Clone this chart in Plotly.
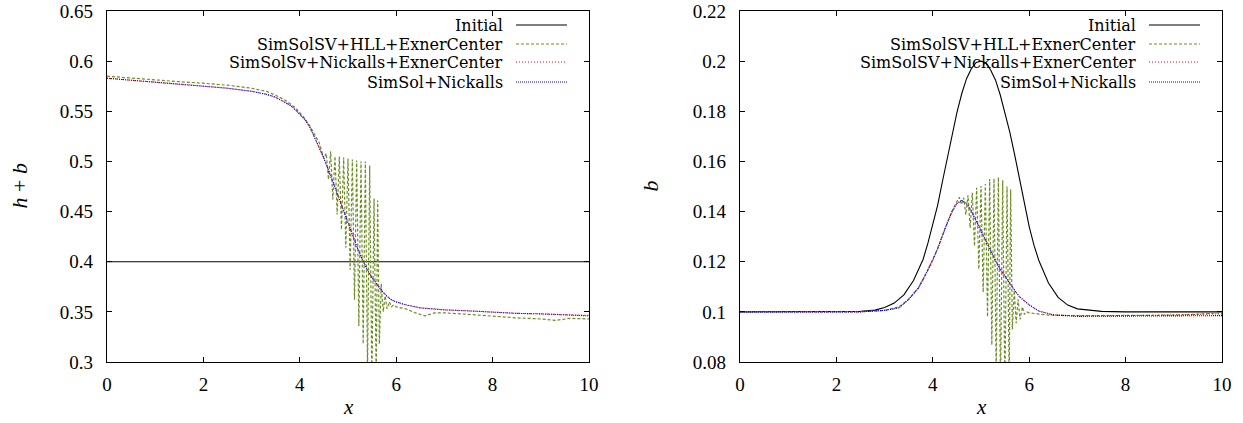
import plotly.graph_objects as go

# ---------------- data ----------------
# initial conditions
x_init_hb = [0, 10]
hb_initial = [0.4, 0.4]

x_init_b = [0, 1, 2, 2.5, 2.8, 3.0, 3.2, 3.4, 3.6, 3.8, 3.9, 4.0, 4.1, 4.2, 4.3, 4.4,
            4.5, 4.6, 4.7, 4.8, 4.9, 5.0, 5.1, 5.2, 5.3, 5.4, 5.5, 5.6, 5.7, 5.8,
            5.9, 6.0, 6.1, 6.2, 6.4, 6.6, 6.8, 7.0, 7.5, 8, 9, 10]
b_initial = [0.1, 0.1, 0.1, 0.1002, 0.1007, 0.1017, 0.1035, 0.1068, 0.1125, 0.121,
             0.1275, 0.1345, 0.1425, 0.152, 0.1615, 0.171, 0.1795, 0.187, 0.193, 0.197,
             0.1995, 0.2, 0.1994, 0.1965, 0.1925, 0.1865, 0.1795, 0.1715, 0.1625, 0.1525,
             0.143, 0.134, 0.1265, 0.1205, 0.1115, 0.1058, 0.1027, 0.1012, 0.1002, 0.1,
             0.1, 0.1]

# smooth solutions (Nickalls variants)
x_smooth = [0, 0.5, 1, 1.5, 2, 2.5, 3, 3.3, 3.5, 3.7, 3.8, 3.9, 4.0, 4.1, 4.2, 4.3,
            4.4, 4.5, 4.6, 4.7, 4.8, 4.9, 5.0, 5.1, 5.2, 5.3, 5.4, 5.5, 5.6, 5.7,
            5.8, 5.9, 6.0, 6.2, 6.5, 7.0, 7.5, 8.0, 8.5, 9.0, 9.5, 10]
hb_simsolsv_nickalls = [0.583, 0.581, 0.579, 0.577, 0.575, 0.573, 0.570, 0.567, 0.564,
                        0.559, 0.556, 0.552, 0.547, 0.542, 0.535, 0.525, 0.514, 0.503,
                        0.491, 0.478, 0.465, 0.452, 0.438, 0.425, 0.413, 0.402, 0.392,
                        0.384, 0.377, 0.371, 0.366, 0.362, 0.360, 0.357, 0.354, 0.352,
                        0.351, 0.3495, 0.3485, 0.348, 0.3472, 0.3465]
hb_simsol_nickalls = [0.583, 0.581, 0.579, 0.577, 0.575, 0.573, 0.570, 0.567, 0.564,
                      0.559, 0.556, 0.552, 0.547, 0.542, 0.535, 0.525, 0.514, 0.503,
                      0.491, 0.478, 0.465, 0.452, 0.438, 0.425, 0.413, 0.402, 0.392,
                      0.384, 0.377, 0.371, 0.366, 0.362, 0.360, 0.357, 0.354, 0.352,
                      0.351, 0.3495, 0.3485, 0.348, 0.347, 0.346]
b_simsolsv_nickalls = [0.1, 0.1, 0.1, 0.1, 0.1, 0.1, 0.1006, 0.1016, 0.1050, 0.1095,
                       0.1130, 0.1167, 0.1207, 0.1252, 0.1305, 0.1355, 0.1400, 0.1432,
                       0.1445, 0.1432, 0.1402, 0.1362, 0.132, 0.128, 0.124, 0.1205,
                       0.117, 0.114, 0.1112, 0.1085, 0.106, 0.1042, 0.1028, 0.1003,
                       0.0988, 0.0984, 0.0984, 0.0985, 0.0986, 0.0988, 0.099, 0.0992]
b_simsol_nickalls = [0.1, 0.1, 0.1, 0.1, 0.1, 0.1, 0.1006, 0.1016, 0.1050, 0.1095,
                     0.1130, 0.1167, 0.1207, 0.1252, 0.1305, 0.1355, 0.1400, 0.1432,
                     0.1445, 0.1432, 0.1402, 0.1362, 0.132, 0.128, 0.124, 0.1205,
                     0.117, 0.114, 0.1112, 0.1085, 0.106, 0.1042, 0.1028, 0.1003,
                     0.0988, 0.0982, 0.0982, 0.0982, 0.0983, 0.0984, 0.0985, 0.0985]

# HLL solution (oscillating)
x_hll = [0, 0.5, 1, 1.5, 2, 2.5, 3, 3.3, 3.5, 3.7, 3.9, 4.0, 4.1, 4.2, 4.3, 4.4, 4.5,
         4.55, 4.595, 4.64, 4.685, 4.73, 4.775, 4.82, 4.865, 4.91, 4.955, 5.0, 5.045,
         5.09, 5.135, 5.18, 5.225, 5.27, 5.315, 5.36, 5.405, 5.45, 5.495, 5.54, 5.585,
         5.615, 5.65, 5.69, 5.73, 5.77, 5.81, 5.86, 5.9, 5.95, 6.0, 6.2, 6.4, 6.6, 6.8,
         7.0, 7.5, 8.0, 8.5, 9.0, 9.3, 9.6, 10]
hb_hll = [0.585, 0.583, 0.581, 0.5795, 0.578, 0.576, 0.573, 0.570, 0.566, 0.561, 0.554,
          0.549, 0.543, 0.536, 0.527, 0.519, 0.503,
          0.508, 0.482, 0.510, 0.462, 0.505, 0.447, 0.505, 0.432, 0.504, 0.414, 0.503,
          0.392, 0.502, 0.362, 0.501, 0.336, 0.500, 0.318, 0.500, 0.292, 0.496, 0.280,
          0.463, 0.282, 0.461,
          0.318, 0.378, 0.350, 0.366, 0.353, 0.360, 0.355, 0.357, 0.355, 0.353, 0.349,
          0.346, 0.349, 0.349, 0.3475, 0.3455, 0.344, 0.343, 0.3415, 0.3435, 0.343]
b_hll = [0.1, 0.1, 0.1, 0.1, 0.1, 0.1001, 0.1006, 0.1020, 0.1050, 0.1095, 0.1167, 0.1207,
         0.1252, 0.1305, 0.1355, 0.1402, 0.1440,
         0.1457, 0.1428, 0.1455, 0.1388, 0.1465, 0.1335, 0.1475, 0.1262, 0.1495, 0.1170,
         0.1502, 0.1078, 0.1510, 0.0980, 0.1530, 0.0868, 0.1532, 0.0760, 0.1537, 0.0700,
         0.1525, 0.0680, 0.1500, 0.0720, 0.1488,
         0.0930, 0.1085, 0.0955, 0.1050, 0.0970, 0.1020, 0.0990, 0.1000, 0.0996, 0.0990,
         0.0987, 0.0986, 0.0985, 0.0985, 0.0985, 0.0985, 0.0986, 0.0987, 0.0989, 0.0992,
         0.0996]

series_names = ["Initial", "SimSolSV+HLL+ExnerCenter",
                "SimSolSv+Nickalls+ExnerCenter", "SimSol+Nickalls"]
series_names_right = ["Initial", "SimSolSV+HLL+ExnerCenter",
                      "SimSolSV+Nickalls+ExnerCenter", "SimSol+Nickalls"]

x_ticks = [0, 2, 4, 6, 8, 10]
hb_ticks = [0.3, 0.35, 0.4, 0.45, 0.5, 0.55, 0.6, 0.65]
hb_ticklabels = ["0.3", "0.35", "0.4", "0.45", "0.5", "0.55", "0.6", "0.65"]
b_ticks = [0.08, 0.1, 0.12, 0.14, 0.16, 0.18, 0.2, 0.22]
b_ticklabels = ["0.08", "0.1", "0.12", "0.14", "0.16", "0.18", "0.2", "0.22"]

# ---------------- styles ----------------
FONT = "Liberation Serif, 'Times New Roman', serif"
FONT_KEY = "'DejaVu Serif', serif"
styles = [
    dict(color="black", width=1.1, dash="solid"),
    dict(color="#6b8e23", width=1.2, dash="3px,2px"),
    dict(color="#ff0000", width=1.1, dash="1px,2px"),
    dict(color="#0000ff", width=1.1, dash="1px,1px"),
]

fig = go.Figure()

left = [(x_init_hb, hb_initial), (x_hll, hb_hll), (x_smooth, hb_simsolsv_nickalls),
        (x_smooth, hb_simsol_nickalls)]
right = [(x_init_b, b_initial), (x_hll, b_hll), (x_smooth, b_simsolsv_nickalls),
         (x_smooth, b_simsol_nickalls)]

for i, (xx, yy) in enumerate(left):
    fig.add_trace(go.Scatter(x=xx, y=yy, mode="lines", line=styles[i],
                             name=series_names[i], showlegend=False,
                             xaxis="x", yaxis="y"))
for i, (xx, yy) in enumerate(right):
    fig.add_trace(go.Scatter(x=xx, y=yy, mode="lines", line=styles[i],
                             name=series_names_right[i], showlegend=False,
                             xaxis="x2", yaxis="y2"))

W, H = 1243, 423
L1, R1 = 107, 589
L2, R2 = 740, 1222
TOP, BOT = 11, 362

axis_common = dict(showline=True, linecolor="black", linewidth=1.2, mirror="ticks",
                   ticks="inside", ticklen=5, tickcolor="black", tickwidth=1,
                   showgrid=False, zeroline=False, automargin=False,
                   tickfont=dict(family=FONT, size=19, color="black"))

fig.update_layout(
    width=W, height=H,
    margin=dict(l=0, r=0, t=0, b=0, pad=0, autoexpand=False),
    paper_bgcolor="white", plot_bgcolor="white",
    showlegend=False,
    font=dict(family=FONT, color="black"),
    xaxis=dict(domain=[L1 / W, R1 / W], range=[0, 10], tickvals=x_ticks,
               anchor="y", ticklabelstandoff=5, **axis_common),
    yaxis=dict(domain=[1 - BOT / H, 1 - TOP / H], range=[0.3, 0.65],
               tickvals=hb_ticks, ticktext=hb_ticklabels, anchor="x",
               ticklabelstandoff=9, **axis_common),
    xaxis2=dict(domain=[L2 / W, R2 / W], range=[0, 10], tickvals=x_ticks,
                anchor="y2", ticklabelstandoff=5, **axis_common),
    yaxis2=dict(domain=[1 - BOT / H, 1 - TOP / H], range=[0.08, 0.22],
                tickvals=b_ticks, ticktext=b_ticklabels, anchor="x2",
                ticklabelstandoff=9, **axis_common),
)

# axis titles
title_font = dict(family=FONT, size=22, color="black")
xtitle_font = dict(family=FONT, size=21, color="black")
fig.add_annotation(text="<i>x</i>", xref="x domain", yref="paper", x=0.5,
                   y=1 - 407 / H, showarrow=False, font=xtitle_font,
                   xanchor="center", yanchor="middle", borderpad=0)
fig.add_annotation(text="<i>x</i>", xref="x2 domain", yref="paper", x=0.5,
                   y=1 - 407 / H, showarrow=False, font=xtitle_font,
                   xanchor="center", yanchor="middle", borderpad=0)
fig.add_annotation(text="<i>h</i> + <i>b</i>", xref="paper", yref="y domain",
                   x=19 / W, y=0.5, textangle=-90, showarrow=False,
                   font=title_font, xanchor="center", yanchor="middle")
fig.add_annotation(text="<i>b</i>", xref="paper", yref="y2 domain",
                   x=650 / W, y=0.5, textangle=-90, showarrow=False,
                   font=title_font, xanchor="center", yanchor="middle")

# gnuplot-style key (text right-aligned, sample on the right)
row_offsets = [14, 33, 51, 71]
plot_h = BOT - TOP
plot_w = R1 - L1
for names, xd, yd in [(series_names, "x domain", "y domain"),
                      (series_names_right, "x2 domain", "y2 domain")]:
    for i, nm in enumerate(names):
        yy = 1 - row_offsets[i] / plot_h
        fig.add_annotation(text=nm, xref=xd, yref=yd, x=1 - 86 / plot_w, y=yy,
                           xanchor="right", yanchor="middle", showarrow=False,
                           borderpad=0, borderwidth=0,
                           font=dict(family=FONT_KEY, size=16, color="black"))
        fig.add_shape(type="line", xref=xd, yref=yd,
                      x0=1 - 73 / plot_w, x1=1 - 22 / plot_w, y0=yy, y1=yy,
                      line=styles[i])

fig.write_html("out.html")
